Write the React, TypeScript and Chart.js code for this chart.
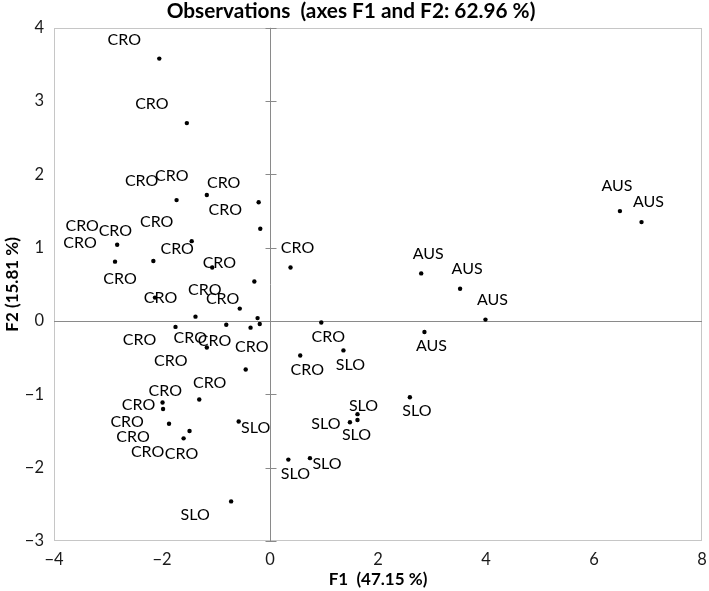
import React, { useEffect, useRef } from "react";
import { Chart, registerables } from "chart.js";

Chart.register(...registerables);

// ---------- data ----------
const chartTitle = "Observations  (axes F1 and F2: 62.96 %)";
const xAxisTitle = "F1  (47.15 %)";
const yAxisTitle = "F2 (15.81 %)";

const xTicks = [-4, -2, 0, 2, 4, 6, 8];
const yTicks = [-3, -2, -1, 0, 1, 2, 3, 4];

const croX = [-2.05, -1.54, -1.73, -1.17, -0.21, -0.18, -2.83, -2.87, -2.16, -1.45, -1.07, -0.29, -2.13, -0.56, -1.38, -0.23, -0.19, -1.75, -0.81, -0.36, -1.17, -0.45, -1.31, -1.99, -1.98, -1.87, -1.49, -1.6, 0.38, 0.95, 0.56];
const croY = [3.58, 2.7, 1.65, 1.72, 1.62, 1.26, 1.04, 0.81, 0.82, 1.09, 0.73, 0.54, 0.32, 0.17, 0.06, 0.04, -0.04, -0.08, -0.05, -0.09, -0.36, -0.66, -1.07, -1.11, -1.2, -1.4, -1.5, -1.6, 0.73, -0.02, -0.47];
const croPlace = ["nw", "nw", "nw", "nw", "nw", "nw", "nw", "nw", "nnw", "nw", "nw", "nw", "nw", "nw", "nw", "nw", "ssw", "sw", "sw", "sw", "sw", "sw", "w", "w2", "sw", "sw", "ssw", "sw", "n", "s", "s"];

const sloX = [1.36, 2.59, 1.62, 1.62, 1.48, 0.34, 0.74, -0.58, -0.72];
const sloY = [-0.4, -1.04, -1.27, -1.35, -1.38, -1.89, -1.87, -1.37, -2.46];
const sloPlace = ["s", "s", "nne", "s0", "w2", "s", "e", "e", "sw"];

const ausX = [2.8, 3.52, 3.99, 2.86, 6.48, 6.88];
const ausY = [0.65, 0.44, 0.02, -0.15, 1.5, 1.35];
const ausPlace = ["n", "n", "n", "s", "nn", "n"];

// label placement (centre of label relative to its point, px)
const PLACE: Record<string, [number, number]> = {
  n: [7, -20],
  nn: [-3, -25],
  s: [7, 14],
  s0: [-1, 15],
  nw: [-35, -19],
  nnw: [-38, -30],
  sw: [-36, 13],
  ssw: [-8, 23],
  w: [-34, -9],
  w2: [-24, 2],
  e: [17, 6],
  nne: [6, -8],
};

const FONT = "Lato, 'Open Sans', sans-serif";

const toPts = (xs: number[], ys: number[]) => xs.map((x, i) => ({ x, y: ys[i] }));
const fmt = (v: number) => String(v).replace("-", "\u2212");

const framePlugin = {
  id: "frameAndAxes",
  beforeDatasetsDraw(chart: any) {
    const { ctx, chartArea } = chart;
    const { left, right, top, bottom } = chartArea;
    ctx.save();
    ctx.strokeStyle = "#c6c6c6";
    ctx.lineWidth = 1;
    ctx.strokeRect(Math.round(left) + 0.5, Math.round(top) + 0.5, Math.round(right - left) - 1, Math.round(bottom - top) - 1);
    const xs = chart.scales.x;
    const ys = chart.scales.y;
    const x0 = Math.round(xs.getPixelForValue(0)) + 0.5;
    const y0 = Math.round(ys.getPixelForValue(0)) + 0.5;
    ctx.strokeStyle = "#8a8a8a";
    ctx.beginPath();
    ctx.moveTo(x0, top);
    ctx.lineTo(x0, bottom);
    ctx.moveTo(left, y0);
    ctx.lineTo(right, y0);
    yTicks.forEach((v) => {
      const py = Math.round(ys.getPixelForValue(v)) + 0.5;
      ctx.moveTo(x0 - 5, py);
      ctx.lineTo(x0 + 6, py);
    });
    ctx.stroke();
    ctx.restore();
  },
};

const labelPlugin = {
  id: "pointLabels",
  afterDatasetsDraw(chart: any) {
    const { ctx } = chart;
    ctx.save();
    ctx.font = `16px ${FONT}`;
    ctx.fillStyle = "#000";
    ctx.textAlign = "center";
    ctx.textBaseline = "middle";
    chart.data.datasets.forEach((ds: any, i: number) => {
      const meta = chart.getDatasetMeta(i);
      meta.data.forEach((el: any, j: number) => {
        const [dx, dy] = PLACE[ds.place[j]] || [7, -20];
        ctx.fillText(ds.label, el.x + dx, el.y + dy);
      });
    });
    ctx.restore();
  },
};

export default function App() {
  const ref = useRef<HTMLCanvasElement | null>(null);

  useEffect(() => {
    if (!ref.current) return;
    const mk = (label: string, xs: number[], ys: number[], place: string[]) => ({
      label,
      data: toPts(xs, ys),
      place,
      pointRadius: 2.2,
      pointHoverRadius: 2.2,
      pointBackgroundColor: "#000",
      pointBorderWidth: 0,
      showLine: false,
    });
    const chart = new Chart(ref.current, {
      type: "scatter",
      data: {
        datasets: [
          mk("CRO", croX, croY, croPlace),
          mk("SLO", sloX, sloY, sloPlace),
          mk("AUS", ausX, ausY, ausPlace),
        ] as any,
      },
      options: {
        animation: false,
        responsive: false,
        devicePixelRatio: 1,
        layout: { padding: { left: 0, right: 7, top: 0, bottom: 0 } },
        plugins: {
          legend: { display: false },
          tooltip: { enabled: false },
          title: {
            display: true,
            text: chartTitle,
            color: "#000",
            font: { family: FONT, size: 20.8, weight: "bold", lineHeight: 1 },
            padding: { top: 0.5, bottom: 6.5 },
          },
        },
        scales: {
          x: {
            type: "linear",
            min: -4,
            max: 8,
            grid: { display: false, drawTicks: false },
            border: { display: false },
            afterFit: (s: any) => {
              s.height = 50;
              s.paddingLeft = 0;
              s.paddingRight = 0;
            },
            afterBuildTicks: (s: any) => {
              s.ticks = xTicks.map((v) => ({ value: v }));
            },
            ticks: {
              color: "#1a1a1a",
              padding: 9,
              font: { family: FONT, size: 16.5 },
              callback: (v: any) => fmt(v),
              maxRotation: 0,
            },
            title: {
              display: true,
              text: xAxisTitle,
              color: "#000",
              font: { family: FONT, size: 17, weight: "bold" },
              padding: { top: 0, bottom: 1 },
            },
          },
          y: {
            type: "linear",
            min: -3,
            max: 4,
            grid: { display: false, drawTicks: false },
            border: { display: false },
            afterFit: (s: any) => {
              s.width = 54;
              s.paddingTop = 0;
              s.paddingBottom = 0;
            },
            afterBuildTicks: (s: any) => {
              s.ticks = yTicks.map((v) => ({ value: v }));
            },
            ticks: {
              color: "#1a1a1a",
              padding: 10,
              font: { family: FONT, size: 16.5 },
              callback: (v: any) => fmt(v),
            },
            title: {
              display: true,
              text: yAxisTitle,
              color: "#000",
              font: { family: FONT, size: 17, weight: "bold" },
              padding: { top: 2.5, bottom: 0 },
            },
          },
        },
      } as any,
      plugins: [framePlugin, labelPlugin],
    });
    return () => chart.destroy();
  }, []);

  return (
    <div style={{ position: "absolute", left: 0, top: 0, width: 709, height: 591, background: "#fff" }}>
      <canvas ref={ref} width={709} height={591} style={{ width: 709, height: 591, display: "block" }} />
    </div>
  );
}
